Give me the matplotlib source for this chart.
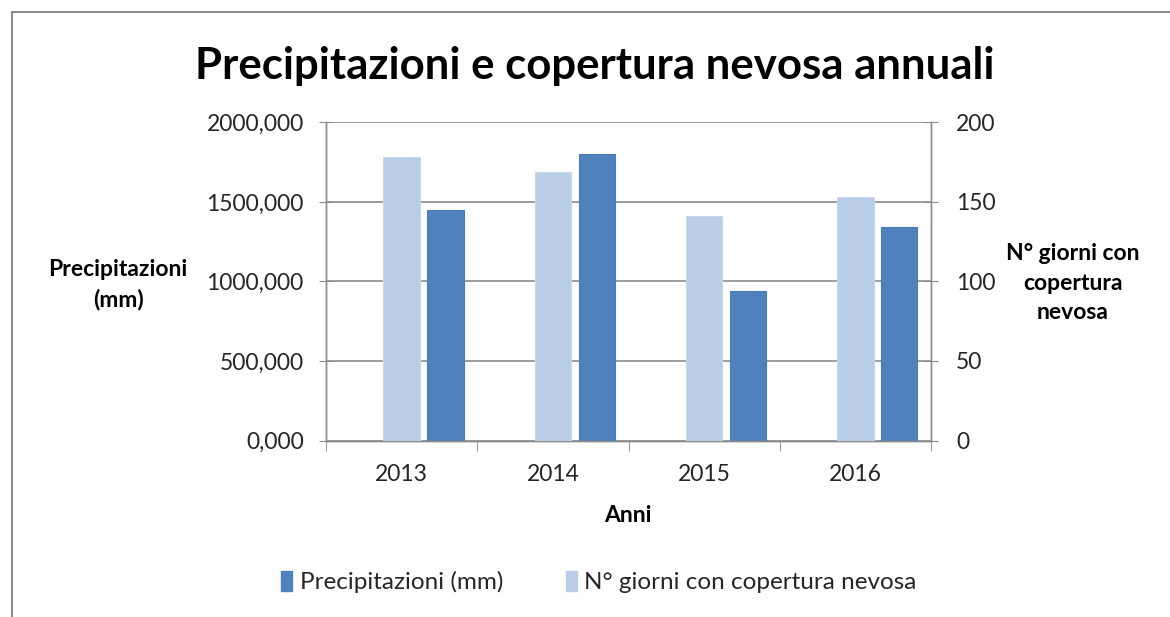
import matplotlib
matplotlib.use("Agg")
import matplotlib.pyplot as plt
from matplotlib.lines import Line2D
from matplotlib.patches import Patch
from matplotlib.ticker import FuncFormatter, MultipleLocator
import numpy as np

plt.rcParams['font.family'] = ['Lato', 'DejaVu Sans']

years = ['2013', '2014', '2015', '2016']
precip = [1450, 1800, 940, 1345]
snow_days = [178, 169, 141, 153]

title = 'Precipitazioni e copertura nevosa annuali'
ylabel_left = 'Precipitazioni\n(mm)'
ylabel_right = 'N° giorni con\ncopertura\nnevosa'
xlabel = 'Anni'
legend_labels = ['Precipitazioni (mm)', 'N° giorni con copertura nevosa']

DARK = '#4F81BD'
LIGHT = '#B9CDE5'
GRID = '#8C8C8C'
TXT = '#262626'

W, H = 1170, 617
fig = plt.figure(figsize=(W / 100, H / 100), dpi=100)
ax = fig.add_axes([326 / W, 1 - 440.5 / H, (931 - 326) / W, (440.5 - 122.3) / H])
ax2 = ax.twinx()

x = np.arange(len(years))
bw = 0.24
ax.bar(x + 0.29, precip, width=bw, color=DARK, edgecolor='#4A7DB8', linewidth=0.8, zorder=3)
ax2.bar(x, snow_days, width=bw, color=LIGHT, edgecolor='#C9D9EC', linewidth=0.8, zorder=3)

ax.set_xlim(-0.5, 3.5)
ax.set_ylim(0, 2000)
ax2.set_ylim(0, 200)
ax.yaxis.set_major_locator(MultipleLocator(500))
ax2.yaxis.set_major_locator(MultipleLocator(50))
ax.yaxis.set_major_formatter(FuncFormatter(lambda v, p: f"{v:.3f}".replace('.', ',')))
ax2.yaxis.set_major_formatter(FuncFormatter(lambda v, p: f"{int(v)}"))

ax.grid(axis='y', color=GRID, linewidth=1.2, zorder=0)
ax.set_axisbelow(True)

for a in (ax, ax2):
    for s in a.spines.values():
        s.set_color(GRID)
        s.set_linewidth(1.0)
    a.spines['top'].set_visible(False)

ax.set_xticks(x)
ax.set_xticklabels(years, fontsize=16.5, color=TXT)
ax.set_xticks(np.arange(-0.5, 3.6, 1.0), minor=True)
ax.tick_params(axis='x', which='major', length=0, pad=17)
ax.tick_params(axis='x', which='minor', length=7, color=GRID, direction='out')
ax.tick_params(axis='y', labelsize=16.5, labelcolor=TXT, length=10, direction='inout', color=GRID, pad=11)
ax2.tick_params(axis='y', labelsize=16.5, labelcolor=TXT, length=10, direction='inout', color=GRID, pad=13)

fig.text(595 / W, 1 - 66 / H, title, fontsize=31.5, fontweight='bold', ha='center', va='center', color='black')
fig.text(118 / W, 1 - 285 / H, ylabel_left, fontsize=16.5, fontweight='bold', ha='center', va='center',
         color='black', linespacing=1.5)
fig.text(1073 / W, 1 - 283 / H, ylabel_right, fontsize=16.5, fontweight='bold', ha='center', va='center',
         color='black', linespacing=1.5)
fig.text(628 / W, 1 - 516 / H, xlabel, fontsize=16.5, fontweight='bold', ha='center', va='center', color='black')

handles = [Patch(facecolor=DARK, edgecolor=DARK), Patch(facecolor=LIGHT, edgecolor=LIGHT)]
fig.legend(handles, legend_labels, loc='center', bbox_to_anchor=(599 / W, 1 - 582 / H), ncol=2,
           frameon=False, fontsize=17.5, handlelength=0.45, handleheight=0.9, handletextpad=0.3,
           columnspacing=2.6, labelcolor=TXT)

frame_c = '#8C8C8C'
fig.add_artist(Line2D([12 / W, 1], [1 - 12 / H, 1 - 12 / H], color=frame_c, linewidth=1.5))
fig.add_artist(Line2D([12 / W, 12 / W], [0, 1 - 12 / H], color=frame_c, linewidth=1.5))

fig.savefig('out.png', dpi=100)
